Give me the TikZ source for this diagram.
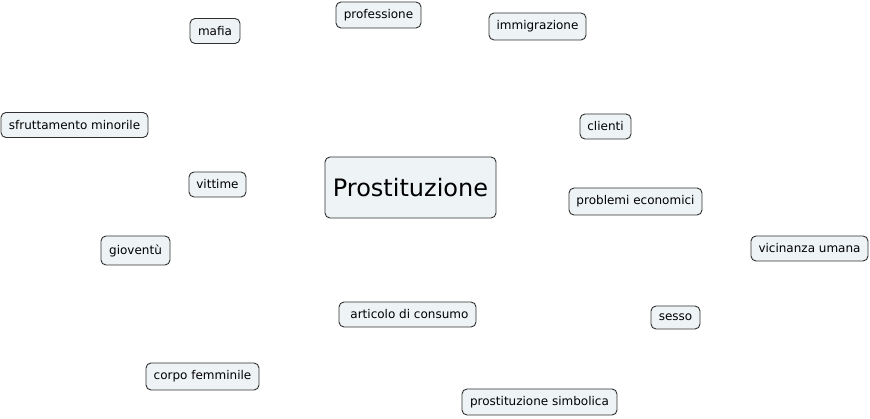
\documentclass[tikz,border=0pt]{standalone}
\usepackage{fontspec}
\setmainfont{DejaVu Sans}
\definecolor{conceptfill}{HTML}{EEF3F5}
\definecolor{conceptline}{HTML}{303030}
\tikzset{
  concept/.style={draw=conceptline, fill=conceptfill, rounded corners=5pt, line width=0.9pt,
    inner xsep=7pt, inner ysep=0pt, minimum height=25pt, font=\fontsize{12}{14}\selectfont},
  topic/.style={concept, minimum height=61pt, inner xsep=7pt, font=\fontsize{24}{28}\selectfont}
}
\begin{document}
\begin{tikzpicture}[x=1pt, y=-1pt]
    \useasboundingbox (0,0) rectangle (870,419);

    % Central topic
    \node[topic, minimum width=171pt] (prost) at (410.5,187.5) {Prostituzione};

    % Surrounding concepts
    \node[concept, minimum width=50pt] (mafia) at (215,31) {mafia};
    \node[concept, minimum width=85pt, minimum height=26pt] (prof) at (378.5,15) {professione};
    \node[concept, minimum width=97pt, minimum height=27pt] (immig) at (537.5,26.5) {immigrazione};
    \node[concept, minimum width=147pt] (sfrutt) at (74.5,125) {sfruttamento minorile};
    \node[concept, minimum width=51pt] (clienti) at (605.5,126.5) {clienti};
    \node[concept, minimum width=57pt] (vittime) at (217.5,184.5) {vittime};
    \node[concept, minimum width=133pt, minimum height=27pt] (problemi) at (635.5,201.5) {problemi economici};
    \node[concept, minimum width=69pt, minimum height=29pt] (giov) at (135.5,250.5) {gioventù};
    \node[concept, minimum width=117pt] (vicin) at (809.5,248.5) {vicinanza umana};
    \node[concept, minimum width=137pt] (artic) at (407.5,314.5) {\ articolo di consumo};
    \node[concept, minimum width=49pt, minimum height=23pt] (sesso) at (675.5,317.5) {sesso};
    \node[concept, minimum width=113pt, minimum height=27pt] (corpo) at (202.5,376.5) {corpo femminile};
    \node[concept, minimum width=155pt, minimum height=26pt] (simbol) at (539.5,402) {prostituzione simbolica};
  \end{tikzpicture}
\end{document}
